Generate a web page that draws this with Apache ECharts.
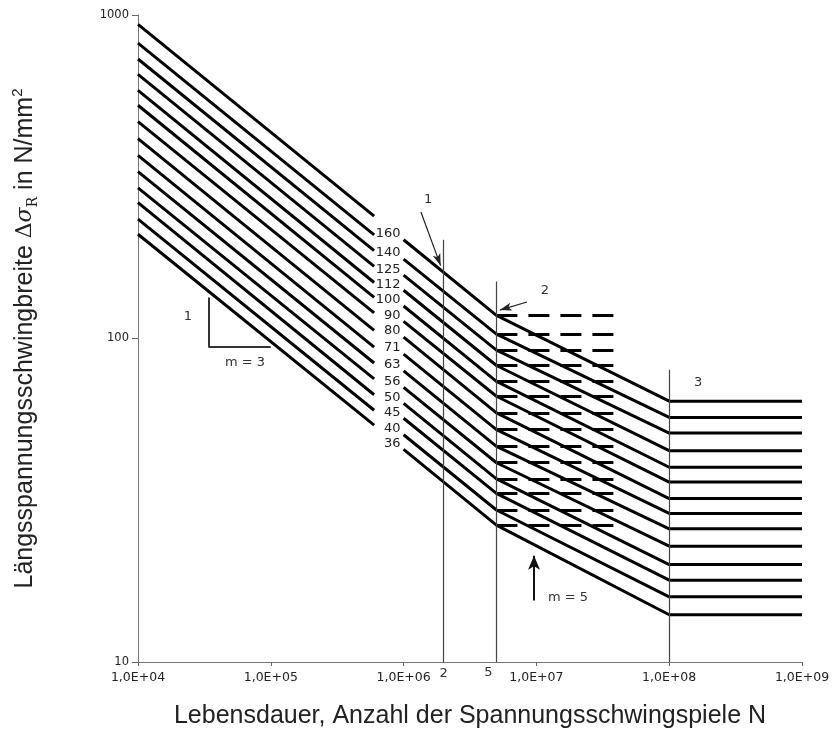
<!DOCTYPE html>
<html>
<head>
<meta charset="utf-8">
<script src="https://cdn.jsdelivr.net/npm/echarts@6/dist/echarts.min.js"></script>
<style>
    html, body { margin: 0; padding: 0; background: #fff; }
    #chart { width: 835px; height: 744px; }
</style>
</head>
<body>
<div id="chart"></div>
<script>
(function () {

    // Kerbfallklassen (Δσc bei 2E+06)
    var categories = [160, 140, 125, 112, 100, 90, 80, 71, 63, 56, 50, 45, 40, 36];
    var stressAt1e4 = [935, 819, 731, 655, 585, 526, 468, 415, 368, 328, 292, 263, 234, 210];
    var stressGapStart = [239, 209, 187, 167, 149, 134, 120, 106, 94, 84, 75, 67, 60, 54];    // bei 6E+05
    var stressGapEnd = [202, 176, 157, 141, 126, 113, 101, 89.5, 79.4, 70.6, 63, 56.7, 50.4, 45.4]; // bei 1E+06
    var stressAt5e6 = [117.9, 103.2, 92.1, 82.5, 73.7, 66.3, 58.9, 52.3, 46.4, 41.3, 36.8, 33.2, 29.5, 26.5];
    var stressAt1e8 = [64, 57, 51, 45, 40, 36, 32, 28.8, 25.8, 22.8, 20, 17.9, 15.9, 14];

    var nStart = 1e4, nGapStart = 6e5, nGapEnd = 1e6, nKnee = 5e6, nCut = 1e8, nEnd = 1e9;
    var nDashEnd = 3.8e7;

    var chart = echarts.init(document.getElementById('chart'));

    var series = [];
    for (var i = 0; i < categories.length; i++) {
        // linker Ast (m = 3) bis zur Lücke
        series.push({
            type: 'line',
            silent: true,
            symbol: 'none',
            animation: false,
            lineStyle: { color: '#000', width: 3 },
            data: [[nStart, stressAt1e4[i]], [nGapStart, stressGapStart[i]]]
        });
        // rechter Ast: m = 3, m = 5, horizontal
        series.push({
            type: 'line',
            silent: true,
            symbol: 'none',
            animation: false,
            lineStyle: { color: '#000', width: 3 },
            data: [
                [nGapEnd, stressGapEnd[i]],
                [nKnee, stressAt5e6[i]],
                [nCut, stressAt1e8[i]],
                [nEnd, stressAt1e8[i]]
            ],
            markPoint: {
                symbol: 'circle',
                symbolSize: 0,
                silent: true,
                label: {
                    show: true,
                    position: 'left',
                    distance: 3,
                    offset: [0, -6],
                    formatter: '{b}',
                    fontFamily: 'DejaVu Sans',
                    fontSize: 13,
                    color: '#222'
                },
                data: [{ name: String(categories[i]), coord: [nGapEnd, stressGapEnd[i]] }]
            },
            // Dauerfestigkeit gestrichelt
            markLine: {
                silent: true,
                symbol: ['none', 'none'],
                label: { show: false },
                lineStyle: { color: '#000', width: 3, type: [21, 11] },
                data: [[{ coord: [nKnee, stressAt5e6[i]] }, { coord: [nDashEnd, stressAt5e6[i]] }]]
            }
        });
    }

    // Hilfslinien und Beschriftungen
    var thin = { color: '#444', width: 1.2, type: 'solid' };
    var txt = { fontFamily: 'DejaVu Sans', fontSize: 13, color: '#333' };
    function note(text, coord, offset) {
        return {
            name: text, coord: coord,
            label: { show: true, position: 'inside', offset: offset || [0, 0], formatter: '{b}' }
        };
    }
    series.push({
        type: 'line',
        silent: true,
        clip: false,
        animation: false,
        data: [],
        markLine: {
            silent: true,
            symbol: ['none', 'none'],
            label: { show: false },
            lineStyle: thin,
            data: [
                [{ coord: [2e6, 10] }, { coord: [2e6, 202] }],
                [{ coord: [5e6, 10] }, { coord: [5e6, 150] }],
                [{ coord: [1e8, 10] }, { coord: [1e8, 80] }],
                // Steigungsdreieck m = 3
                [{ coord: [3.4e4, 134], lineStyle: { color: '#333', width: 2 } }, { coord: [3.4e4, 94] }],
                [{ coord: [3.4e4, 94], lineStyle: { color: '#333', width: 2 } }, { coord: [1e5, 94] }],
                // Pfeile
                [{ coord: [1.35e6, 246], symbol: 'none', lineStyle: { color: '#222', width: 1.2 } },
                 { coord: [1.9e6, 168], symbol: 'arrow', symbolSize: [6, 12] }],
                [{ coord: [8.5e6, 129.7], symbol: 'none', lineStyle: { color: '#222', width: 1.2 } },
                 { coord: [5.3e6, 122.4], symbol: 'arrow', symbolSize: [6, 12] }],
                [{ coord: [9.6e6, 15.5], symbol: 'none', lineStyle: { color: '#111', width: 2 } },
                 { coord: [9.6e6, 21.3], symbol: 'arrow', symbolSize: [9, 14] }]
            ]
        },
        markPoint: {
            symbol: 'circle',
            symbolSize: 0,
            silent: true,
            label: txt,
            data: [
                note('1', [1.53e6, 268]),
                note('2', [1.16e7, 141]),
                note('3', [1.65e8, 72.9]),
                note('1', [2.38e4, 116.5]),
                note('m = 3', [6.4e4, 84]),
                note('m = 5', [1.73e7, 15.8]),
                note('2', [2e6, 10], [0, 12]),
                note('5', [5e6, 10], [-8, 11])
            ]
        }
    });

    chart.setOption({
        animation: false,
        backgroundColor: '#fff',
        grid: { left: 138, right: 33, top: 15, bottom: 82 },
        xAxis: {
            type: 'log',
            logBase: 10,
            min: 1e4,
            max: 1e9,
            name: 'Lebensdauer, Anzahl der Spannungsschwingspiele N',
            nameLocation: 'middle',
            nameGap: 42,
            nameTextStyle: { fontFamily: 'Liberation Sans', fontSize: 25, color: '#222' },
            axisLine: { lineStyle: { color: '#777', width: 1 } },
            axisTick: { length: 4, lineStyle: { color: '#666' } },
            axisLabel: {
                margin: 9,
                fontFamily: 'DejaVu Sans',
                fontSize: 12.5,
                color: '#222',
                formatter: function (v) {
                    var e = Math.round(Math.log(v) / Math.LN10);
                    return '1,0E+' + (e < 10 ? '0' : '') + e;
                }
            },
            splitLine: { show: false },
            minorTick: { show: false }
        },
        yAxis: {
            type: 'log',
            logBase: 10,
            min: 10,
            max: 1000,
            name: 'Längsspannungsschwingbreite {d|Δ}{s|σ}{sub|R} in N/mm{sup|2}',
            nameLocation: 'middle',
            nameRotate: 90,
            nameGap: 98,
            nameTextStyle: {
                fontFamily: 'Liberation Sans', fontSize: 25, color: '#222', lineHeight: 30,
                rich: {
                    d: { fontFamily: 'DejaVu Serif', fontSize: 22, color: '#222' },
                    s: { fontFamily: 'DejaVu Serif', fontStyle: 'italic', fontSize: 22, color: '#222' },
                    sub: { fontFamily: 'DejaVu Serif', fontSize: 14, color: '#222', verticalAlign: 'bottom' },
                    sup: { fontFamily: 'Liberation Sans', fontSize: 15, color: '#222', verticalAlign: 'top' }
                }
            },
            axisLine: { show: true, lineStyle: { color: '#777', width: 1 } },
            axisTick: { show: true, length: 6, lineStyle: { color: '#666' } },
            axisLabel: {
                margin: 9, fontFamily: 'DejaVu Sans', fontSize: 11.5, color: '#222',
                formatter: function (v) { return String(Math.round(v)); }
            },
            splitLine: { show: false }
        },
        series: series
    });
})();
</script>
</body>
</html>
